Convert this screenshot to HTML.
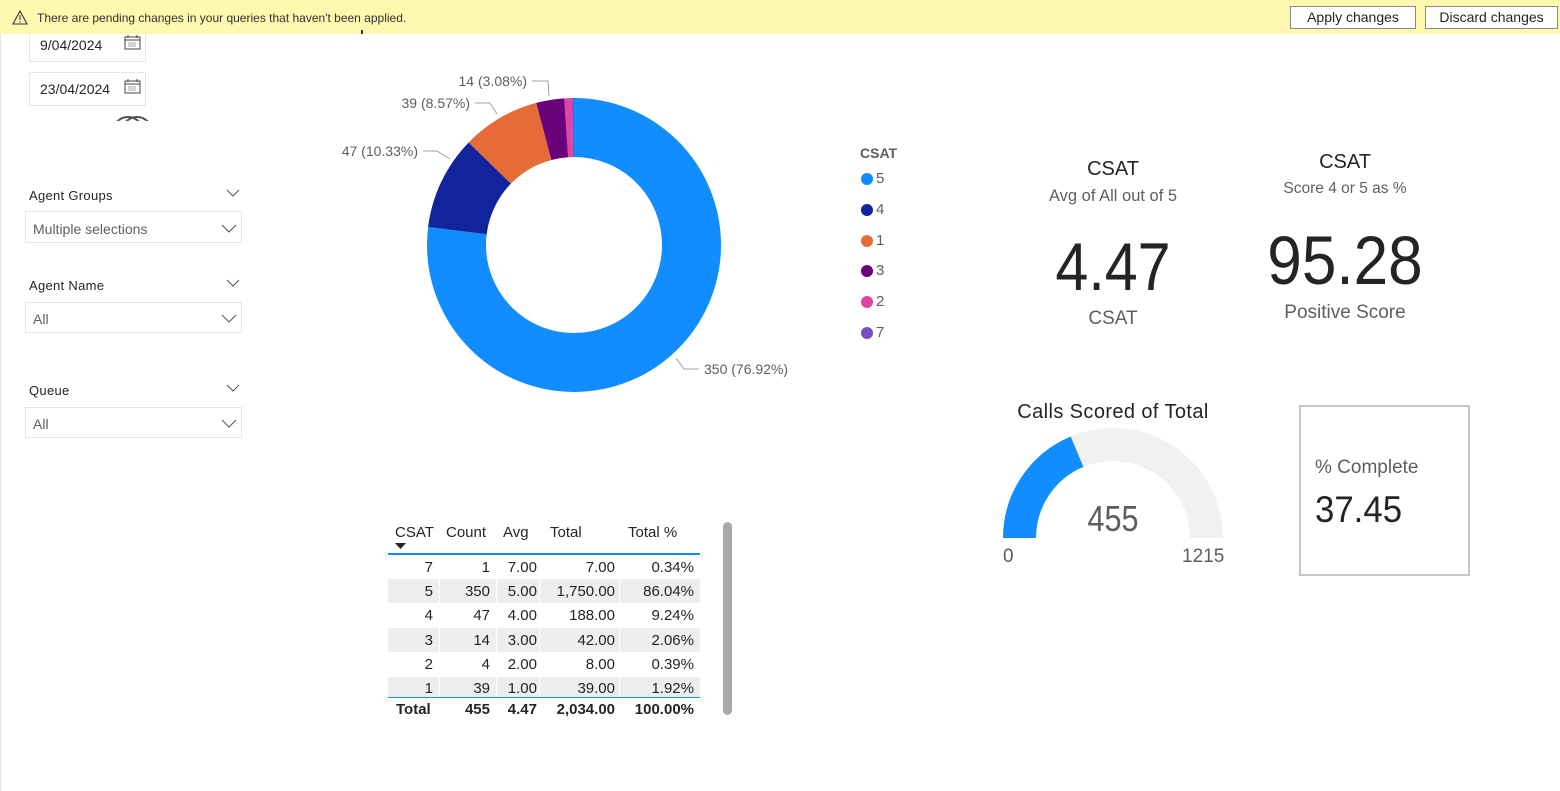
<!DOCTYPE html>
<html><head><meta charset="utf-8">
<style>
*{margin:0;padding:0;box-sizing:border-box}
body{width:1560px;height:791px;background:#fff;position:relative;overflow:hidden;font-family:"Liberation Sans",sans-serif;color:#252423}
.a{position:absolute;white-space:nowrap}
.t{position:absolute;white-space:nowrap;line-height:20px;height:20px}
.r{text-align:right}
.c{text-align:center}
.btn{position:absolute;background:#fff;border:1px solid #8a8886;font-size:14px;line-height:21px;text-align:center;color:#252423}
.box{position:absolute;border:1px solid #e6e6e6;background:#fff}
.band{position:absolute;background:#eeeeee;height:24px}
.td{position:absolute;font-size:15px;line-height:20px;color:#252423;text-align:right}
</style></head><body>
<div class="a" style="left:0;top:34px;width:1px;height:757px;background:#e1e1e1"></div>
<!-- banner -->
<div class="a" style="left:0;top:0;width:1560px;height:34px;background:#fff8b0"></div>
<svg class="a" style="left:12px;top:10px" width="16" height="15" viewBox="0 0 16 15"><path d="M8 1 L15 14 L1 14 Z" fill="none" stroke="#333" stroke-width="1.1"/><line x1="8" y1="5" x2="8" y2="10" stroke="#333" stroke-width="1.1"/><circle cx="8" cy="12" r="0.7" fill="#333"/></svg>
<div class="t" style="left:37px;top:8px;font-size:12px;color:#323130">There are pending changes in your queries that haven't been applied.</div>
<div class="btn" style="left:1290px;top:6px;width:126px;height:23px">Apply changes</div>
<div class="btn" style="left:1425px;top:6px;width:133px;height:23px">Discard changes</div>
<!-- date slicers -->
<div class="box" style="left:29px;top:34px;width:117px;height:28px;border-top:none"></div>
<div class="t" style="left:40px;top:35px;font-size:14px">9/04/2024</div>
<div class="box" style="left:29px;top:72px;width:117px;height:34px"></div>
<div class="t" style="left:40px;top:79px;font-size:14px">23/04/2024</div>
<svg class="a" style="left:124px;top:35px" width="17" height="15" viewBox="0 0 17 15"><rect x="1" y="2" width="15" height="12" fill="none" stroke="#444" stroke-width="1"/><line x1="1" y1="5" x2="16" y2="5" stroke="#444"/><line x1="4" y1="0" x2="4" y2="3" stroke="#444"/><line x1="13" y1="0" x2="13" y2="3" stroke="#444"/><g stroke="#9aa" stroke-width="1"><line x1="5" y1="7" x2="5" y2="12"/><line x1="7" y1="7" x2="7" y2="12"/><line x1="9" y1="7" x2="9" y2="12"/><line x1="11" y1="7" x2="11" y2="12"/></g></svg>
<svg class="a" style="left:124px;top:79px" width="17" height="15" viewBox="0 0 17 15"><rect x="1" y="2" width="15" height="12" fill="none" stroke="#444" stroke-width="1"/><line x1="1" y1="5" x2="16" y2="5" stroke="#444"/><line x1="4" y1="0" x2="4" y2="3" stroke="#444"/><line x1="13" y1="0" x2="13" y2="3" stroke="#444"/><g stroke="#9aa" stroke-width="1"><line x1="5" y1="7" x2="5" y2="12"/><line x1="7" y1="7" x2="7" y2="12"/><line x1="9" y1="7" x2="9" y2="12"/><line x1="11" y1="7" x2="11" y2="12"/></g></svg>
<svg class="a" style="left:110px;top:112px" width="45" height="9">
<circle cx="18" cy="20" r="15" fill="none" stroke="#555" stroke-width="2"/>
<circle cx="27" cy="20" r="15" fill="none" stroke="#555" stroke-width="2"/>
</svg>
<div class="a" style="left:361px;top:30px;width:2px;height:4px;background:#333"></div>
<!-- slicers -->
<div class="t" style="left:29px;top:186px;font-size:13px;letter-spacing:0.3px">Agent Groups</div>
<div class="box" style="left:25px;top:211px;width:217px;height:32px"></div>
<div class="t" style="left:33px;top:219px;font-size:14px;color:#605e5c">Multiple selections</div>
<div class="t" style="left:29px;top:276px;font-size:13px;letter-spacing:0.3px">Agent Name</div>
<div class="box" style="left:25px;top:302px;width:217px;height:31px"></div>
<div class="t" style="left:33px;top:309px;font-size:14px;color:#605e5c">All</div>
<div class="t" style="left:29px;top:381px;font-size:13px;letter-spacing:0.3px">Queue</div>
<div class="box" style="left:25px;top:407px;width:217px;height:31px"></div>
<div class="t" style="left:33px;top:414px;font-size:14px;color:#605e5c">All</div>
<svg class="a" style="left:0;top:0" width="260" height="450">
<g fill="none" stroke="#555" stroke-width="1">
<polyline points="227,190 233,196 239,190"/>
<polyline points="222,225 229,232 236,225"/>
<polyline points="227,280 233,286 239,280"/>
<polyline points="222,315 229,322 236,315"/>
<polyline points="227,385 233,391 239,385"/>
<polyline points="222,420 229,427 236,420"/>
</g></svg>
<!-- donut -->
<svg class="a" style="left:0;top:0" width="840" height="420">
<g transform="rotate(-90 574 245)" fill="none" stroke-width="59">
<circle cx="574" cy="245" r="117.5" stroke="#118DFF" stroke-dasharray="567.9 800" stroke-dashoffset="0"/>
<circle cx="574" cy="245" r="117.5" stroke="#12239E" stroke-dasharray="76.26 800" stroke-dashoffset="-567.9"/>
<circle cx="574" cy="245" r="117.5" stroke="#E66C37" stroke-dasharray="63.28 800" stroke-dashoffset="-644.16"/>
<circle cx="574" cy="245" r="117.5" stroke="#6B007B" stroke-dasharray="22.72 800" stroke-dashoffset="-707.44"/>
<circle cx="574" cy="245" r="117.5" stroke="#E044A7" stroke-dasharray="6.49 800" stroke-dashoffset="-730.16"/>
<circle cx="574" cy="245" r="117.5" stroke="#744EC2" stroke-dasharray="1.62 800" stroke-dashoffset="-736.65"/>
</g>
<g fill="none" stroke="#a19f9d" stroke-width="1">
<polyline points="532,81 548,81 549,96"/>
<polyline points="475,103 490,103 497,114"/>
<polyline points="423,151 437,151 450,159"/>
<polyline points="676,358 684,369 699,369"/>
</g>
</svg>
<div class="t r" style="left:400px;top:71px;width:127px;font-size:14px;color:#605e5c">14 (3.08%)</div>
<div class="t r" style="left:340px;top:93px;width:130px;font-size:14px;color:#605e5c">39 (8.57%)</div>
<div class="t r" style="left:290px;top:141px;width:128px;font-size:14px;color:#605e5c">47 (10.33%)</div>
<div class="t" style="left:704px;top:359px;font-size:14px;color:#605e5c">350 (76.92%)</div>
<!-- legend -->
<div class="t" style="left:860px;top:143px;font-size:14px;font-weight:bold;color:#605e5c">CSAT</div>
<svg class="a" style="left:855px;top:165px" width="30" height="180">
<circle cx="12" cy="14" r="6" fill="#118DFF"/>
<circle cx="12" cy="45" r="6" fill="#12239E"/>
<circle cx="12" cy="76" r="6" fill="#E66C37"/>
<circle cx="12" cy="106" r="6" fill="#6B007B"/>
<circle cx="12" cy="137" r="6" fill="#E044A7"/>
<circle cx="12" cy="168" r="6" fill="#744EC2"/>
</svg>
<div class="t" style="left:876px;top:169px;font-size:15px;color:#605e5c">5</div>
<div class="t" style="left:876px;top:200px;font-size:15px;color:#605e5c">4</div>
<div class="t" style="left:876px;top:231px;font-size:15px;color:#605e5c">1</div>
<div class="t" style="left:876px;top:261px;font-size:15px;color:#605e5c">3</div>
<div class="t" style="left:876px;top:292px;font-size:15px;color:#605e5c">2</div>
<div class="t" style="left:876px;top:323px;font-size:15px;color:#605e5c">7</div>
<!-- KPI 1 -->
<div class="a c" style="left:1013px;top:156px;width:200px;font-size:20px;line-height:26px">CSAT</div>
<div class="a c" style="left:1013px;top:186px;width:200px;font-size:16.5px;line-height:20px;color:#605e5c">Avg of All out of 5</div>
<div class="a c" style="left:1013px;top:229px;width:200px;font-size:68px;line-height:76px;transform:scaleX(0.87);color:#252423">4.47</div>
<div class="a c" style="left:1013px;top:307px;width:200px;font-size:19px;line-height:24px;color:#605e5c">CSAT</div>
<!-- KPI 2 -->
<div class="a c" style="left:1245px;top:149px;width:200px;font-size:20px;line-height:26px">CSAT</div>
<div class="a c" style="left:1245px;top:179px;width:200px;font-size:15.5px;line-height:20px;color:#605e5c">Score 4 or 5 as %</div>
<div class="a c" style="left:1225px;top:223px;width:240px;font-size:69px;line-height:76px;transform:scaleX(0.9);color:#252423">95.28</div>
<div class="a c" style="left:1245px;top:301px;width:200px;font-size:19px;line-height:24px;color:#605e5c">Positive Score</div>
<!-- gauge -->
<div class="a c" style="left:993px;top:400px;width:240px;font-size:20px;line-height:24px;letter-spacing:0.4px">Calls Scored of Total</div>
<svg class="a" style="left:990px;top:420px" width="250" height="130">
<path d="M29.5 118 A93.5 93.5 0 0 1 216.5 118" fill="none" stroke="#f2f1f0" stroke-width="33"/>
<path d="M29.5 118 A93.5 93.5 0 0 1 87.07 31.68" fill="none" stroke="#118DFF" stroke-width="33"/>
</svg>
<div class="a c" style="left:1053px;top:499px;width:120px;font-size:36px;line-height:40px;color:#605e5c;transform:scaleX(0.85)">455</div>
<div class="a" style="left:1003px;top:546px;font-size:19px;line-height:22px;color:#605e5c">0</div>
<div class="a" style="left:1182px;top:546px;font-size:19px;line-height:22px;color:#605e5c">1215</div>
<!-- card -->
<div class="a" style="left:1299px;top:405px;width:171px;height:171px;border:2px solid #c8c6c4"></div>
<div class="a" style="left:1315px;top:456px;font-size:19px;line-height:24px;color:#605e5c">% Complete</div>
<div class="a" style="left:1315px;top:488px;font-size:37px;line-height:44px;color:#252423;transform:scaleX(0.94);transform-origin:left center">37.45</div>
<!-- table -->
<div class="t" style="left:395px;top:523px;font-size:15px">CSAT</div>
<div class="t" style="left:446px;top:523px;font-size:15px">Count</div>
<div class="t" style="left:503px;top:523px;font-size:15px">Avg</div>
<div class="t" style="left:550px;top:523px;font-size:15px">Total</div>
<div class="t" style="left:628px;top:523px;font-size:15px">Total %</div>
<svg class="a" style="left:394px;top:542px" width="14" height="8"><path d="M1 1 L12 1 L6.5 7 Z" fill="#252423"/></svg>
<div class="a" style="left:388px;top:553px;width:312px;height:2px;background:#118DFF"></div>
<div class="band" style="left:388px;top:579px;width:312px"></div>
<div class="band" style="left:388px;top:628px;width:312px"></div>
<div class="band" style="left:388px;top:677px;width:312px;height:20px"></div>
<div class="a" style="left:439px;top:555px;width:1px;height:142px;background:#fff"></div>
<div class="a" style="left:496px;top:555px;width:1px;height:142px;background:#fff"></div>
<div class="a" style="left:539px;top:555px;width:1px;height:142px;background:#fff"></div>
<div class="a" style="left:619px;top:555px;width:1px;height:142px;background:#fff"></div>
<div class="a" style="left:388px;top:697px;width:312px;height:1px;background:#118DFF"></div>
<!-- rows -->
<div class="td" style="left:380px;top:558px;width:53px">7</div><div class="td" style="left:440px;top:558px;width:50px">1</div><div class="td" style="left:497px;top:558px;width:40px">7.00</div><div class="td" style="left:540px;top:558px;width:75px">7.00</div><div class="td" style="left:620px;top:558px;width:74px">0.34%</div>
<div class="td" style="left:380px;top:582px;width:53px">5</div><div class="td" style="left:440px;top:582px;width:50px">350</div><div class="td" style="left:497px;top:582px;width:40px">5.00</div><div class="td" style="left:540px;top:582px;width:75px">1,750.00</div><div class="td" style="left:620px;top:582px;width:74px">86.04%</div>
<div class="td" style="left:380px;top:606px;width:53px">4</div><div class="td" style="left:440px;top:606px;width:50px">47</div><div class="td" style="left:497px;top:606px;width:40px">4.00</div><div class="td" style="left:540px;top:606px;width:75px">188.00</div><div class="td" style="left:620px;top:606px;width:74px">9.24%</div>
<div class="td" style="left:380px;top:631px;width:53px">3</div><div class="td" style="left:440px;top:631px;width:50px">14</div><div class="td" style="left:497px;top:631px;width:40px">3.00</div><div class="td" style="left:540px;top:631px;width:75px">42.00</div><div class="td" style="left:620px;top:631px;width:74px">2.06%</div>
<div class="td" style="left:380px;top:655px;width:53px">2</div><div class="td" style="left:440px;top:655px;width:50px">4</div><div class="td" style="left:497px;top:655px;width:40px">2.00</div><div class="td" style="left:540px;top:655px;width:75px">8.00</div><div class="td" style="left:620px;top:655px;width:74px">0.39%</div>
<div class="td" style="left:380px;top:679px;width:53px;height:18px;overflow:hidden">1</div><div class="td" style="left:440px;top:679px;width:50px;height:18px;overflow:hidden">39</div><div class="td" style="left:497px;top:679px;width:40px;height:18px;overflow:hidden">1.00</div><div class="td" style="left:540px;top:679px;width:75px;height:18px;overflow:hidden">39.00</div><div class="td" style="left:620px;top:679px;width:74px;height:18px;overflow:hidden">1.92%</div>
<div class="td" style="left:396px;top:700px;width:60px;text-align:left;font-weight:bold">Total</div><div class="td" style="left:440px;top:700px;width:50px;font-weight:bold">455</div><div class="td" style="left:497px;top:700px;width:40px;font-weight:bold">4.47</div><div class="td" style="left:540px;top:700px;width:75px;font-weight:bold">2,034.00</div><div class="td" style="left:620px;top:700px;width:74px;font-weight:bold">100.00%</div>
<div class="a" style="left:723px;top:522px;width:9px;height:193px;background:#a8a8a8;border-radius:5px"></div>
</body></html>
